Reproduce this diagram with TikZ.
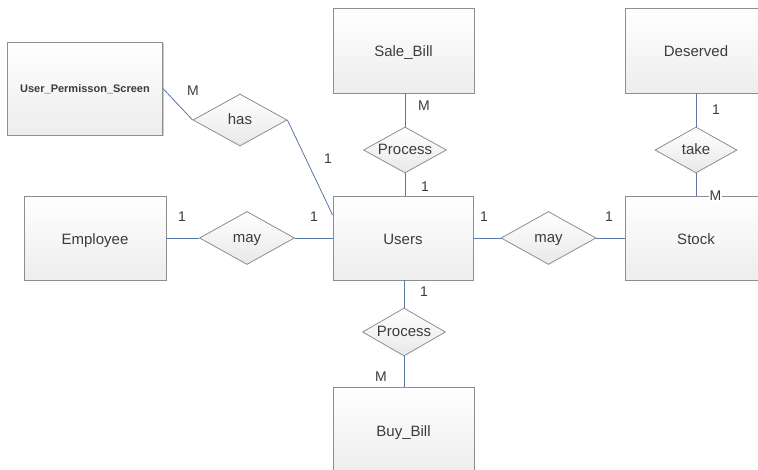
\documentclass[tikz,border=0pt]{standalone}
\usepackage{fontspec}
\setmainfont{Liberation Sans}
\usetikzlibrary{shapes.geometric,shadows}
\definecolor{txt}{HTML}{3C3C3C}
\definecolor{edge}{HTML}{8E8E8E}
\definecolor{link}{HTML}{5A78A6}
\tikzset{
  entity/.style={rectangle, draw=edge, line width=0.8pt, top color=white, bottom color=black!7,
    text=txt, font=\fontsize{15}{17}\selectfont, inner sep=0pt, text depth=0pt, text height=13pt,
    drop shadow={shadow xshift=1.2pt, shadow yshift=-1.2pt, opacity=0.2, fill=black}},
  rel/.style={diamond, draw=edge, line width=0.8pt, top color=white, bottom color=black!9,
    text=txt, font=\fontsize{15}{17}\selectfont, inner sep=0pt, aspect=1.8, text depth=0pt, text height=10pt},
  conn/.style={draw=link, line width=0.8pt},
  card/.style={text=txt, font=\fontsize{14}{16}\selectfont, inner sep=0pt}
}
\begin{document}
\begin{tikzpicture}[x=1pt,y=-1pt]
\clip (0,0) rectangle (758,470);
\fill[white] (0,0) rectangle (758,470);
% entities
\node[entity, minimum width=155pt, minimum height=93pt, font=\fontsize{11}{13}\selectfont\bfseries, text height=9pt] (ups) at (85,88.5) {User\_Permisson\_Screen};
\node[entity, minimum width=142pt, minimum height=84pt] (emp) at (95,238) {Employee};
\node[entity, minimum width=140pt, minimum height=84pt] (users) at (403,238) {Users};
\node[entity, minimum width=141pt, minimum height=85pt] (sale) at (403.5,50.5) {Sale\_Bill};
\node[entity, minimum width=141pt, minimum height=85pt] (des) at (696,50.5) {Deserved};
\node[entity, minimum width=141pt, minimum height=84pt] (stock) at (696,238) {Stock};
\node[entity, minimum width=141pt, minimum height=86pt] (buy) at (403.5,430) {Buy\_Bill};
% relationships
\node[rel, minimum width=94pt, minimum height=52pt] (has) at (240,120) {has};
\node[rel, minimum width=95pt, minimum height=53pt] (may1) at (247,238) {may};
\node[rel, minimum width=95pt, minimum height=53pt] (may2) at (548.5,238) {may};
\node[rel, minimum width=83pt, minimum height=46pt] (proc1) at (405,150) {Process};
\node[rel, minimum width=82pt, minimum height=46pt] (take) at (696,150) {take};
\node[rel, minimum width=83pt, minimum height=48pt] (proc2) at (404,332) {Process};
% connectors
\draw[conn] (ups.east) -- (has.west);
\draw[conn] (has.east) -- ([yshift=23pt]users.west);
\draw[conn] (emp.east) -- (may1.west);
\draw[conn] (may1.east) -- (users.west);
\draw[conn] (users.east) -- (may2.west);
\draw[conn] (may2.east) -- (stock.west);
\draw[conn] (sale.south -| proc1.north) -- (proc1.north);
\draw[conn] (proc1.south) -- (proc1.south |- users.north);
\draw[conn] (des.south) -- (take.north);
\draw[conn] (take.south) -- (stock.north);
\draw[conn] (users.south -| proc2.north) -- (proc2.north);
\draw[conn] (proc2.south) -- (proc2.south |- buy.north);
% cardinalities
\node[card] (c1) at (193,91) {M};
\node[card] (c2) at (328,159) {1};
\node[card] (c3) at (182,217) {1};
\node[card] (c4) at (314,217) {1};
\node[card] (c5) at (484,217) {1};
\node[card] (c6) at (609,217) {1};
\node[card] (c7) at (424,106) {M};
\node[card] (c8) at (425,187) {1};
\node[card] (c9) at (716,110) {1};
\node[card, fill=white, inner sep=1pt] (c10) at (715.5,196) {M};
\node[card] (c11) at (424,292) {1};
\node[card] (c12) at (381,377) {M};
\end{tikzpicture}
\end{document}
